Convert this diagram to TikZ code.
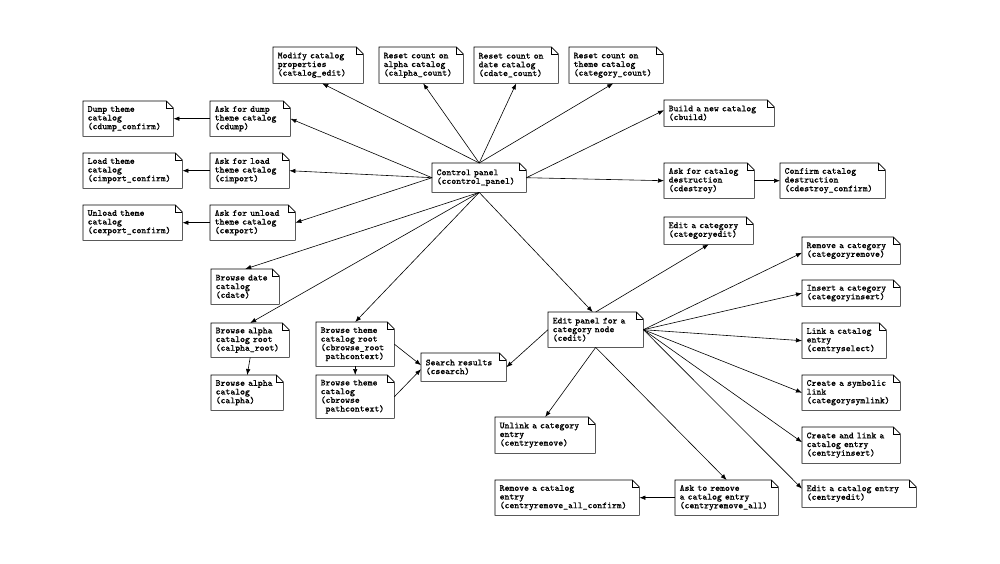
\documentclass[tikz,border=0pt]{standalone}
\usepackage{fontspec}
\setmonofont{Latin Modern Mono}[FakeBold=0.6]
\usetikzlibrary{arrows.meta}
\tikzset{
  note/.style={anchor=north west, draw=none, inner xsep=4.5pt, inner ysep=0pt,
    align=left, font=\ttfamily\fontsize{9.3}{8.7}\selectfont},
  noteline/.style={draw=black, line width=0.6pt, line join=miter},
  arr/.style={draw=black, line width=0.6pt, -{Latex[length=6pt,width=4.5pt]}}
}
\newcommand{\notebox}[6]{%
  \pgfmathsetmacro{\nbw}{#4-#2-9}%
  \pgfmathsetmacro{\nbh}{#5-#3}%
  \node[note, text width=\nbw pt, minimum height=\nbh pt] (#1) at (#2,#3) {#6};%
}
\begin{document}
\begin{tikzpicture}[x=1pt,y=-1pt]
\fill[white] (0,0) rectangle (1000,563);
\useasboundingbox (0,0) rectangle (1000,563);

\notebox{catedit}{273}{47}{363}{83}{Modify catalog\\properties\\(catalog\_edit)}
\notebox{calphac}{379}{47}{463}{83}{Reset count on\\alpha catalog\\(calpha\_count)}
\notebox{cdatec}{474}{47}{558}{83}{Reset count on\\date catalog\\(cdate\_count)}
\notebox{catcount}{569}{47}{663}{83}{Reset count on\\theme catalog\\(category\_count)}
\notebox{cbuild}{664}{100}{774}{126}{Build a new catalog\\(cbuild)}
\notebox{control}{432}{163}{526}{192}{Control panel\\(ccontrol\_panel)}
\notebox{cdestroy}{664}{163}{754}{198}{Ask for catalog\\destruction\\(cdestroy)}
\notebox{cdestroyconf}{780}{163}{885}{198}{Confirm catalog\\destruction\\(cdestroy\_confirm)}
\notebox{cdump}{210}{101}{290}{136}{Ask for dump\\theme catalog\\(cdump)}
\notebox{cdumpconf}{83}{101}{173}{136}{Dump theme\\catalog\\(cdump\_confirm)}
\notebox{cimport}{210}{153}{289}{188}{Ask for load\\theme catalog\\(cimport)}
\notebox{cimportconf}{83}{153}{182}{188}{Load theme\\catalog\\(cimport\_confirm)}
\notebox{cexport}{210}{205}{295}{240}{Ask for unload\\theme catalog\\(cexport)}
\notebox{cexportconf}{83}{205}{182}{240}{Unload theme\\catalog\\(cexport\_confirm)}
\notebox{cdate}{211}{269}{279}{304}{Browse date\\catalog\\(cdate)}
\notebox{calpharoot}{211}{323}{289}{357}{Browse alpha\\catalog root\\(calpha\_root)}
\notebox{calpha}{211}{375}{283}{410}{Browse alpha\\catalog\\(calpha)}
\notebox{cbrowseroot}{316}{322}{394}{366}{Browse theme\\catalog root\\(cbrowse\_root\\\hphantom{x}pathcontext)}
\notebox{cbrowse}{316}{375}{394}{418}{Browse theme\\catalog\\(cbrowse\\\hphantom{x}pathcontext)}
\notebox{csearch}{421}{353}{506}{381}{Search results\\(csearch)}
\notebox{cedit}{548}{312}{643}{347}{Edit panel for a\\category node\\(cedit)}
\notebox{categoryedit}{664}{217}{753}{244}{Edit a category\\(categoryedit)}
\notebox{categoryremove}{802}{237}{900}{264}{Remove a category\\(categoryremove)}
\notebox{categoryinsert}{802}{280}{900}{306}{Insert a category\\(categoryinsert)}
\notebox{centryselect}{802}{323}{886}{358}{Link a catalog\\entry\\(centryselect)}
\notebox{categorysymlink}{802}{375}{900}{410}{Create a symbolic\\link\\(categorysymlink)}
\notebox{centryinsert}{802}{427}{900}{463}{Create and link a\\catalog entry\\(centryinsert)}
\notebox{centryedit}{802}{480}{916}{507}{Edit a catalog entry\\(centryedit)}
\notebox{centryremove}{495}{417}{595}{453}{Unlink a category\\entry\\(centryremove)}
\notebox{centryremoveallconf}{495}{480}{639}{515}{Remove a catalog\\entry\\(centryremove\_all\_confirm)}
\notebox{centryremoveall}{675}{480}{778}{515}{Ask to remove\\a catalog entry\\(centryremove\_all)}

\foreach \n in {catedit,calphac,cdatec,catcount,cbuild,control,cdestroy,cdestroyconf,
  cdump,cdumpconf,cimport,cimportconf,cexport,cexportconf,cdate,calpharoot,calpha,
  cbrowseroot,cbrowse,csearch,cedit,categoryedit,categoryremove,categoryinsert,
  centryselect,categorysymlink,centryinsert,centryedit,centryremove,
  centryremoveallconf,centryremoveall}{
  \draw[noteline] (\n.south west) -- (\n.north west) -- ([xshift=-7pt]\n.north east)
    -- ([yshift=-7pt]\n.north east) -- (\n.south east) -- cycle;
  \draw[noteline] ([xshift=-7pt]\n.north east) -- ([xshift=-7pt,yshift=-7pt]\n.north east)
    -- ([yshift=-7pt]\n.north east);
}

% control panel
\draw[arr] (control.north) -- ([xshift=4pt]catedit.south);
\draw[arr] (control.north) -- ([xshift=2pt]calphac.south);
\draw[arr] (control.north) -- (cdatec.south);
\draw[arr] (control.north) -- ([xshift=-3pt]catcount.south);
\draw[arr] (control.east) -- ([yshift=3pt]cbuild.west);
\draw[arr] (control.east) -- (cdestroy.west);
\draw[arr] (cdestroy.east) -- (cdestroyconf.west);
\draw[arr] (control.west) -- (cdump.east);
\draw[arr] (control.west) -- (cimport.east);
\draw[arr] (control.west) -- (cexport.east);
\draw[arr] (cdump.west) -- (cdumpconf.east);
\draw[arr] (cimport.west) -- (cimportconf.east);
\draw[arr] (cexport.west) -- (cexportconf.east);
\draw[arr] (control.south) -- (cdate.north);
\draw[arr] (control.south) -- (calpharoot.north);
\draw[arr] (control.south) -- (cbrowseroot.north);
\draw[arr] (control.south) -- ([xshift=-3pt]cedit.north);
\draw[arr] (calpharoot.south) -- (calpha.north);
\draw[arr] (cbrowseroot.south) -- (cbrowse.north);
\draw[arr] (cbrowseroot.east) -- ([yshift=2pt]csearch.west);
\draw[arr] (cbrowse.east) -- ([yshift=-2pt]csearch.west);
% edit panel
\draw[arr] (cedit.north) -- (categoryedit.south);
\draw[arr] (cedit.west) -- (csearch.east);
\draw[arr] (cedit.south) -- (centryremove.north);
\draw[arr] (cedit.south) -- (centryremoveall.north);
\draw[arr] (cedit.east) -- ([yshift=-2pt]categoryremove.west);
\draw[arr] (cedit.east) -- (categoryinsert.west);
\draw[arr] (cedit.east) -- (centryselect.west);
\draw[arr] (cedit.east) -- (categorysymlink.west);
\draw[arr] (cedit.east) -- ([yshift=3pt]centryinsert.west);
\draw[arr] (cedit.east) -- ([yshift=5pt]centryedit.west);
\draw[arr] (centryremoveall.west) -- (centryremoveallconf.east);
\end{tikzpicture}
\end{document}
